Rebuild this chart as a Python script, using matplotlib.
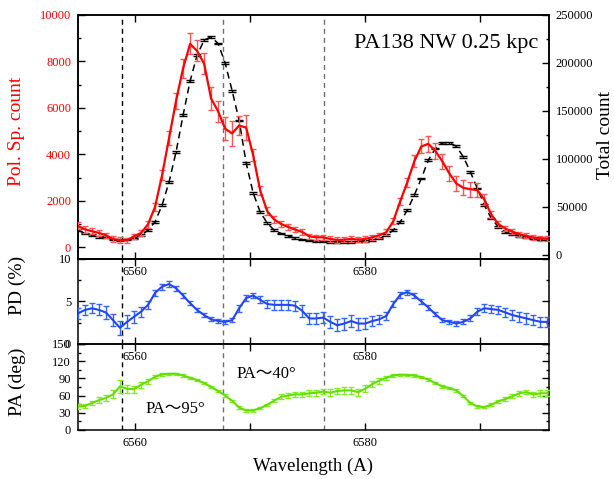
import numpy as np
import matplotlib
matplotlib.use('Agg')
import matplotlib.pyplot as plt
from matplotlib.ticker import MultipleLocator, FuncFormatter

plt.rcParams['font.family'] = ['Liberation Serif', 'Noto Sans CJK JP']
plt.rcParams['axes.linewidth'] = 1.1

# wavelength grid of the spectrum (A)
wave = 6555.0 + 0.61 * np.arange(68)

pol_count = [918, 776, 690, 618, 517, 360, 302, 302, 474, 618,
             991, 1738, 3100, 4700, 6300, 7700, 8750, 8450, 7900, 6400,
             5850, 5100, 4900, 5240, 5150, 3966, 2450, 1560, 1200, 1000,
             876, 761, 661, 474, 431, 431, 360, 316, 330, 360,
             330, 360, 431, 517, 650, 1120, 1990, 2800, 3700, 4340,
             4450, 4150, 3700, 3180, 2744, 2560, 2500, 2457, 2060, 1400,
             1000, 804, 675, 565, 495, 420, 390, 370]
pol_err = [150, 140, 130, 120, 110, 110, 130, 120, 110, 120,
           140, 180, 220, 300, 350, 400, 450, 450, 450, 500,
           450, 500, 550, 400, 550, 250, 200, 160, 140, 130,
           130, 120, 120, 110, 110, 110, 110, 110, 110, 110,
           110, 110, 110, 110, 120, 130, 150, 200, 250, 300,
           330, 330, 330, 330, 330, 330, 330, 300, 220, 160,
           130, 120, 110, 110, 110, 100, 100, 100]

total_count = [25700, 22300, 20500, 18800, 18100, 16000, 15300, 16000, 17100, 20500,
               25700, 34400, 51800, 76000, 107300, 145500, 181000, 208000, 223600, 227000,
               220200, 200000, 171000, 140000, 95800, 64600, 44800, 33300, 25700, 22300,
               19500, 17500, 16000, 15000, 14500, 14000, 13800, 13500, 13500, 13500,
               14000, 14500, 15500, 17000, 20500, 25700, 34400, 46600, 62200, 79600,
               98600, 110800, 116700, 116700, 113200, 102100, 86500, 69200, 51800, 37900,
               29200, 24000, 21500, 19800, 18500, 17400, 16700, 16300]
total_err = 900

pd_val = [3.6, 4.0, 4.2, 4.0, 3.7, 2.8, 1.9, 2.6, 3.2, 3.8,
          4.6, 6.0, 6.75, 7.05, 6.55, 5.7, 4.8, 4.0, 3.4, 2.9,
          2.7, 2.6, 2.8, 4.2, 5.4, 5.7, 5.2, 4.7, 4.6, 4.6,
          4.6, 4.5, 3.9, 3.0, 3.0, 3.1, 2.6, 2.2, 2.4, 2.7,
          2.4, 2.4, 2.7, 2.9, 3.3, 4.7, 5.8, 6.1, 5.7, 5.0,
          4.3, 3.5, 2.8, 2.6, 2.4, 2.6, 3.0, 3.8, 4.2, 4.1,
          4.0, 3.7, 3.4, 3.2, 3.0, 2.8, 2.6, 2.6]
pd_err = [0.65, 0.6, 0.6, 0.65, 0.75, 0.7, 0.8, 0.75, 0.7, 0.6,
          0.5, 0.4, 0.35, 0.35, 0.3, 0.3, 0.25, 0.25, 0.25, 0.25,
          0.2, 0.2, 0.25, 0.4, 0.4, 0.35, 0.4, 0.5, 0.55, 0.55,
          0.55, 0.6, 0.7, 0.6, 0.6, 0.65, 0.7, 0.7, 0.7, 0.7,
          0.7, 0.65, 0.6, 0.55, 0.5, 0.4, 0.35, 0.3, 0.3, 0.3,
          0.25, 0.25, 0.25, 0.25, 0.25, 0.3, 0.35, 0.4, 0.45, 0.5,
          0.5, 0.55, 0.55, 0.6, 0.6, 0.6, 0.6, 0.6]

pa_val = [41, 42, 47, 52, 56, 62, 76, 72, 71, 79,
          85, 93, 97, 98, 98, 95, 91, 87, 82, 75,
          68, 60, 51, 39, 34, 34, 38, 44, 51, 58,
          60, 62, 62, 64, 65, 67, 65, 68, 69, 69,
          66, 72, 80, 86, 91, 95, 96.5, 96, 95, 92,
          88, 82, 76, 73, 69, 59, 47, 41, 40, 44,
          50, 54, 59, 64, 66, 62, 64, 64]
pa_err = [4, 4, 4, 5, 5, 7, 11, 7, 6, 5,
          4, 3, 2, 2, 2, 2, 2, 2, 2, 2,
          2, 2, 2, 2, 2, 2, 2, 2, 3, 4,
          4, 5, 5, 5, 5, 5, 6, 6, 6, 6,
          6, 6, 5, 5, 4, 3, 2, 2, 2, 2,
          2, 2, 2, 2, 2, 2, 2, 2, 2, 3,
          3, 3, 4, 4, 4, 5, 5, 5]

marks = [6558.85, 6567.63, 6576.39]
mark_colors = ['black', '#707070', '#707070']

fig = plt.figure(figsize=(6.14, 4.79), dpi=100)
gs = fig.add_gridspec(3, 1, height_ratios=[244, 85, 86], hspace=0,
                      left=0.127, right=0.894, top=0.969, bottom=0.1023)
ax1 = fig.add_subplot(gs[0])
ax2 = fig.add_subplot(gs[1])
ax3 = fig.add_subplot(gs[2])
ax1r = ax1.twinx()
ax1.set_zorder(ax1r.get_zorder() + 1)

xfmt = FuncFormatter(lambda v, p: f'{v:.0f}' if round(v) % 20 == 0 else '')
for ax in (ax1, ax2, ax3):
    ax.patch.set_visible(False)
    ax.set_xlim(6555, 6596)
    ax.xaxis.set_major_locator(MultipleLocator(10))
    ax.xaxis.set_major_formatter(xfmt)
    ax.tick_params(axis='x', which='both', direction='in', top=True,
                   length=5, width=1, labelsize=9, pad=5)
    ax.tick_params(axis='y', which='major', direction='in', length=5, width=1, labelsize=9)
    ax.tick_params(axis='y', which='minor', direction='in', length=2.5, width=1)
    for x, c in zip(marks, mark_colors):
        ax.axvline(x, color=c, lw=1.0, ls=(0, (3.6, 2.9)), zorder=1)

# top panel
ax1r.errorbar(wave, total_count, yerr=total_err, color='black', lw=1.1,
              ls=(0, (4.5, 3)), ecolor='black', elinewidth=1, capsize=3)
ax1r.set_ylim(-4200, 250000)
ax1r.yaxis.set_major_locator(MultipleLocator(50000))
ax1r.yaxis.set_minor_locator(MultipleLocator(25000))
ax1r.yaxis.set_major_formatter(FuncFormatter(lambda v, p: f'{v:.0f}'))
ax1r.tick_params(axis='y', which='major', direction='in', length=5, width=1, labelsize=9, pad=5)
ax1r.tick_params(axis='y', which='minor', direction='in', length=2.5, width=1)

ax1.errorbar(wave, pol_count, yerr=pol_err, color='red', lw=1.6,
             ecolor='#ff5555', elinewidth=1, capsize=2.2, zorder=3)
ax1.set_ylim(-500, 10000)
ax1.yaxis.set_major_locator(MultipleLocator(2000))
ax1.yaxis.set_minor_locator(MultipleLocator(1000))
ax1.tick_params(axis='y', which='both', right=False, labelcolor='red', pad=5)
ax1.text(0.977, 0.8635, 'PA138 NW 0.25 kpc', transform=ax1.transAxes,
         ha='right', va='baseline', fontsize=16)

# PD panel
ax2.errorbar(wave, pd_val, yerr=pd_err, color='#2244ff', lw=1.5,
             ecolor='#3366ff', elinewidth=1, capsize=2.2, zorder=3)
ax2.set_ylim(0, 10)
ax2.yaxis.set_major_locator(MultipleLocator(5))
ax2.yaxis.set_minor_locator(MultipleLocator(2.5))
ax2.tick_params(axis='y', which='both', right=True, pad=5)

# PA panel
ax3.errorbar(wave, pa_val, yerr=pa_err, color='#66dd00', lw=1.5,
             ecolor='#7fee22', elinewidth=1, capsize=2.2, zorder=3)
ax3.set_ylim(0, 150)
ax3.yaxis.set_major_locator(MultipleLocator(30))
ax3.yaxis.set_minor_locator(MultipleLocator(15))
ax3.tick_params(axis='y', which='both', right=True, pad=5)
ax3.text(6568.8, 90, 'PA～40°', ha='left', va='baseline', fontsize=12)
ax3.text(6560.9, 30.5, 'PA～95°', ha='left', va='baseline', fontsize=12)

fig.text(17 / 614, 1 - 131 / 479, 'Pol. Sp. count', rotation=90, ha='center', va='center',
         fontsize=14, color='red')
fig.text(17 / 614, 1 - 285 / 479, 'PD (%)', rotation=90, ha='center', va='center', fontsize=14)
fig.text(17 / 614, 1 - 382 / 479, 'PA (deg)', rotation=90, ha='center', va='center', fontsize=14)
fig.text(605 / 614, 1 - 135 / 479, 'Total count', rotation=90, ha='center', va='center', fontsize=14)
fig.text(313 / 614, 1 - 466 / 479, 'Wavelength (A)', ha='center', va='center', fontsize=13.5)

fig.savefig('out.png', dpi=100)
